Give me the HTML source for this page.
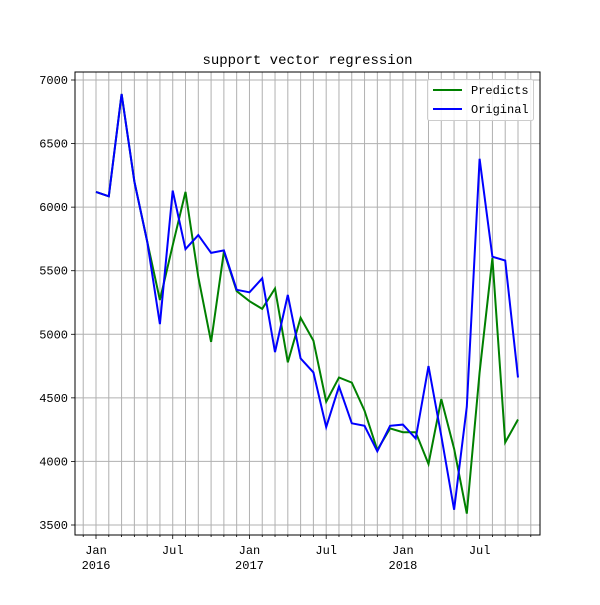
<!DOCTYPE html>
<html><head><meta charset="utf-8"><style>
body{margin:0;background:#fff}
svg text{font-family:"Liberation Mono","Noto Sans CJK SC",monospace;fill:#000}
</style></head><body>
<svg id="chart" width="600" height="600" xmlns="http://www.w3.org/2000/svg">
<rect width="600" height="600" fill="#fff"/>
<g id="grid"></g>
<g id="lines"></g>
<g id="axes"></g>
</svg>
<script>
const original=[6120,6085,6890,6200,5730,5080,6130,5670,5780,5640,5660,5350,5330,5440,4860,5310,4810,4700,4270,4590,4300,4280,4080,4280,4290,4180,4750,4200,3620,4430,6380,5610,5580,4660];
const predicts=[6120,6085,6890,6200,5730,5270,5700,6120,5450,4940,5650,5340,5260,5200,5360,4780,5130,4950,4470,4660,4620,4400,4090,4260,4230,4230,3980,4490,4100,3590,4700,5600,4150,4330];
const yTicks=[3500,4000,4500,5000,5500,6000,6500,7000];
const xTickIdx=[0,6,12,18,24,30];
const xTickLabels=["Jan\n2016","Jul","Jan\n2017","Jul","Jan\n2018","Jul"];

const L=75,R=540,T=72,B=535;
const xs=i=>96+i*(518-96)/33;
const ys=v=>80+(7000-v)*(525-80)/3500;
const NS="http://www.w3.org/2000/svg";
function mk(tag,attrs,parent){const e=document.createElementNS(NS,tag);for(const k in attrs)e.setAttribute(k,attrs[k]);parent.appendChild(e);return e;}
const grid=document.getElementById('grid'),lines=document.getElementById('lines'),axes=document.getElementById('axes');
for(let i=-1;i<=original.length;i++){
  const g=mk('line',{x1:xs(i),x2:xs(i),y1:T,y2:B,stroke:'#b0b0b0','stroke-width':1},grid);
  
  
  const t=mk('line',{x1:xs(i),x2:xs(i),y1:B,y2:B+(xTickIdx.includes(i)?4:2),stroke:'#000','stroke-width':0.8},axes);
  
  
}
yTicks.forEach(v=>{
  const g=mk('line',{x1:L,x2:R,y1:ys(v),y2:ys(v),stroke:'#b0b0b0','stroke-width':1},grid);
  
  
  mk('line',{x1:L-4,x2:L,y1:ys(v),y2:ys(v),stroke:'#000','stroke-width':0.8},axes);
  const t=mk('text',{x:L-7,y:ys(v)+4,'text-anchor':'end','font-size':12},axes);
  t.textContent=v;
  
  
});
xTickIdx.forEach((idx,k)=>{
  const parts=xTickLabels[k].split('\n');
  parts.forEach((p,j)=>{
    const t=mk('text',{x:xs(idx),y:B+19+j*15,'text-anchor':'middle','font-size':12},axes);
    t.textContent=p;
    
    
  });
});
function path(arr){return arr.map((v,i)=>(i?'L':'M')+xs(i).toFixed(1)+','+ys(v).toFixed(1)).join(' ');}
const pg=mk('path',{d:path(predicts),fill:'none',stroke:'#008000','stroke-width':2},lines);


const po=mk('path',{d:path(original),fill:'none',stroke:'#0000ff','stroke-width':2},lines);


const fr=mk('rect',{x:L,y:T,width:R-L,height:B-T,fill:'none',stroke:'#000','stroke-width':1},axes);


const title=mk('text',{x:(L+R)/2,y:64,'text-anchor':'middle','font-size':14},axes);
title.textContent='support vector regression';


const lg=mk('g',{},axes);


mk('rect',{x:427.5,y:79.5,width:106,height:41,rx:2,fill:'#fff','fill-opacity':0.85,stroke:'#ccc'},lg);
mk('line',{x1:433,x2:462,y1:90,y2:90,stroke:'#008000','stroke-width':2},lg);
mk('line',{x1:433,x2:462,y1:109,y2:109,stroke:'#0000ff','stroke-width':2},lg);
const l1=mk('text',{x:471,y:94,'font-size':12},lg);l1.textContent='Predicts';


const l2=mk('text',{x:471,y:113,'font-size':12},lg);l2.textContent='Original';


</script>
</body></html>
